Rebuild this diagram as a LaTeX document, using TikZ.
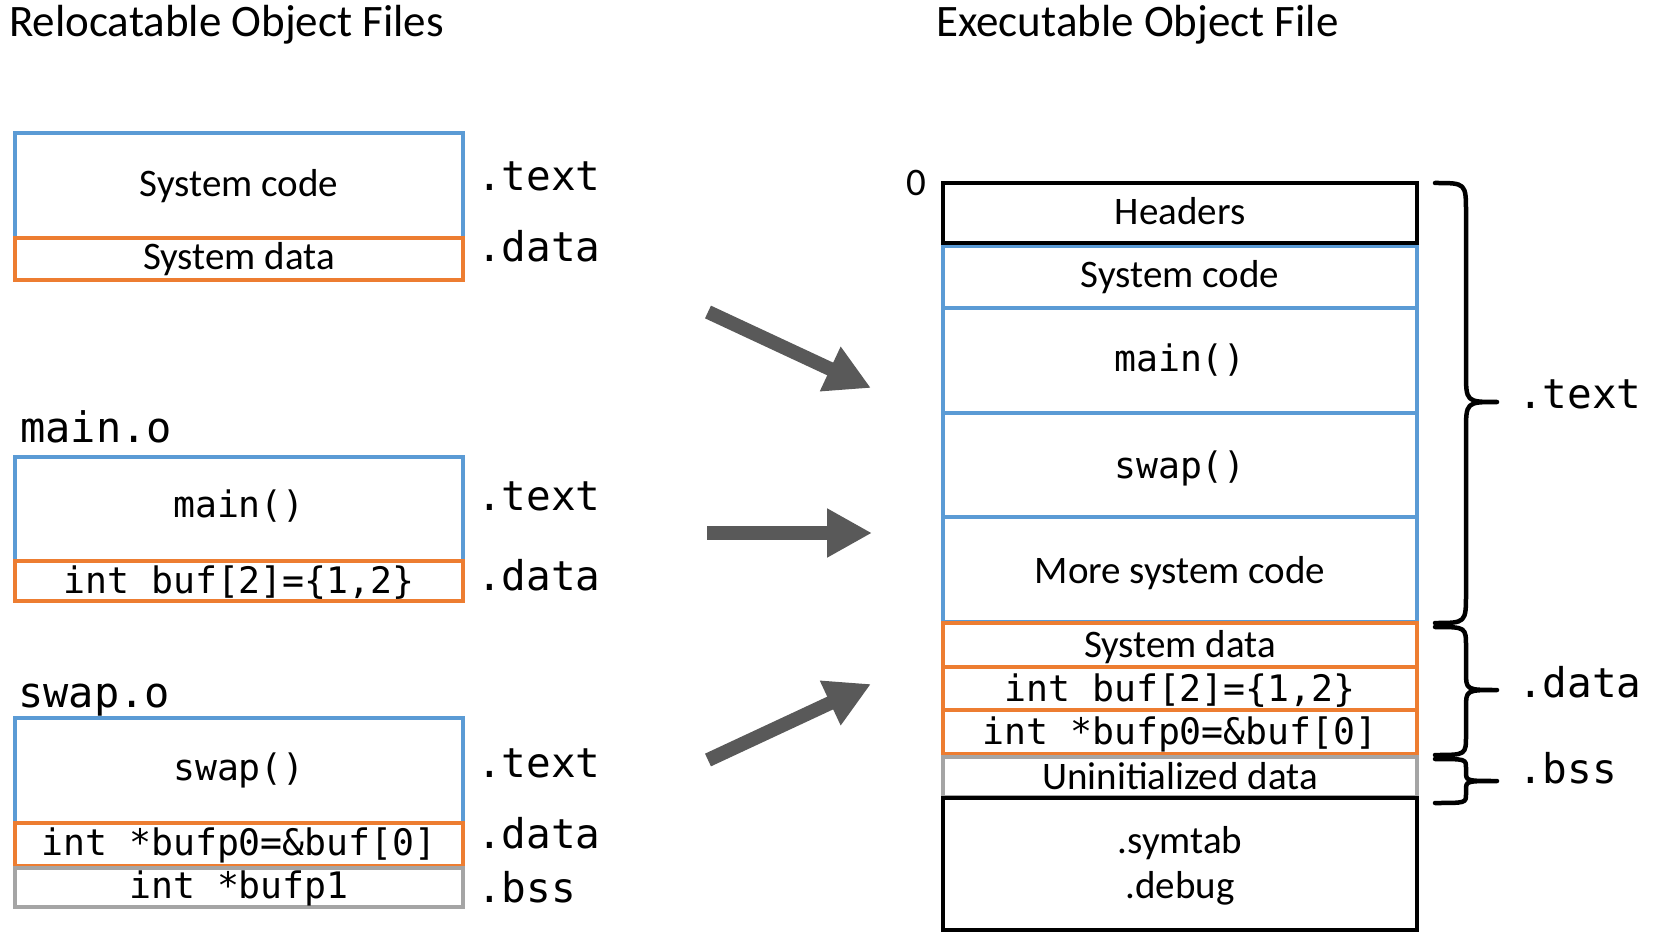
\documentclass[tikz,border=0pt]{standalone}
\usepackage{fontspec}
\setmainfont{Carlito}
\setmonofont{DejaVu Sans Mono}
\usetikzlibrary{arrows.meta}
\definecolor{cblue}{HTML}{5B9BD5}
\definecolor{corange}{HTML}{ED7D31}
\definecolor{cgray}{HTML}{A5A5A5}
\definecolor{carrow}{HTML}{595959}
\begin{document}
\begin{tikzpicture}[x=1pt,y=-1pt,
  bb/.style={draw=cblue,line width=3.5pt},
  ob/.style={draw=corange,line width=3.5pt},
  gb/.style={draw=cgray,line width=3.5pt},
  kb/.style={draw=black,line width=4pt},
  sans/.style={font=\fontsize{39}{46}\selectfont, anchor=base, inner sep=0pt},
  ttl/.style={font=\fontsize{45}{53}\selectfont, anchor=base west, inner sep=0pt},
  mono/.style={font=\ttfamily\fontsize{36.5}{44}\selectfont, anchor=base, inner sep=0pt},
  lab/.style={font=\ttfamily\fontsize{41}{48}\selectfont, anchor=base west, inner sep=0pt},
  flab/.style={font=\ttfamily\fontsize{42}{50}\selectfont, anchor=base west, inner sep=0pt},
  bigarrow/.style={draw=carrow, line width=14pt, -{Triangle[length=45pt,width=46pt]}},
  bracepath/.style={draw=black, line width=4.5pt, line cap=round, line join=round},
]
\useasboundingbox (0,0) rectangle (1657,949);
\fill[white] (0,0) rectangle (1657,949);

% titles
\node[ttl] (t1) at (9,37) {Relocatable Object Files};
\node[ttl] (t2) at (936,37) {Executable Object File};

% left box 1
\draw[bb] (15,133) rectangle (463,238);
\draw[ob] (15,238) rectangle (463,280);
\node[sans] (l1a) at (239,197) {System code};
\node[sans] (l1b) at (239,270) {System data};
\node[lab] (l1t) at (477,191) {.text};
\node[lab] (l1d) at (477,262) {.data};

% left box 2
\node[flab] (mo) at (20,442) {main.o};
\draw[bb] (15,457) rectangle (463,561);
\draw[ob] (15,561) rectangle (463,601);
\node[mono] (l2a) at (239,517) {main()};
\node[mono] (l2b) at (239,593) {int buf[2]=\{1,2\}};
\node[lab] (l2t) at (477,510) {.text};
\node[lab] (l2d) at (477,590) {.data};

% left box 3
\node[flab] (so) at (18,707) {swap.o};
\draw[bb] (15,718) rectangle (463,823);
\draw[ob] (15,823) rectangle (463,866);
\draw[gb] (15,868) rectangle (463,907);
\node[mono] (l3a) at (239,780) {swap()};
\node[mono] (l3b) at (239,855) {int *bufp0=\&buf[0]};
\node[mono] (l3c) at (239,898) {int *bufp1};
\node[lab] (l3t) at (477,777) {.text};
\node[lab] (l3d) at (477,848) {.data};
\node[lab] (l3s) at (477,902) {.bss};

% arrows
\coordinate (a1s) at (708,312);
\coordinate (a1e) at (871,388);
\coordinate (a2s) at (707,533);
\coordinate (a2e) at (872,533);
\coordinate (a3s) at (708,760);
\coordinate (a3e) at (871,684);
\draw[bigarrow] (a1s) -- (a1e);
\draw[bigarrow] (a2s) -- (a2e);
\draw[bigarrow] (a3s) -- (a3e);

% right stack
\draw[bb] (943,246) rectangle (1417,308);
\draw[bb] (943,308) rectangle (1417,413);
\draw[bb] (943,413) rectangle (1417,517);
\draw[bb] (943,517) rectangle (1417,622);
\draw[ob] (943,623) rectangle (1417,667);
\draw[ob] (943,667) rectangle (1417,710);
\draw[ob] (943,710) rectangle (1417,754);
\draw[gb] (943,757) rectangle (1417,797);
\draw[kb] (943,183) rectangle (1417,243);
\draw[kb] (943,798) rectangle (1417,930);

\node[sans] (zero) at (916,196) {0};
\node[sans] (r1) at (1180,225) {Headers};
\node[sans] (r2) at (1180,288) {System code};
\node[mono] (r3) at (1180,372) {main()};
\node[mono] (r4) at (1180,478) {swap()};
\node[sans] (r5) at (1180,583) {More system code};
\node[sans] (r6) at (1180,657) {System data};
\node[mono] (r7) at (1180,701) {int buf[2]=\{1,2\}};
\node[mono] (r8) at (1180,744) {int *bufp0=\&buf[0]};
\node[sans] (r9) at (1180,789) {Uninitialized data};
\node[sans] (r10) at (1180,853) {.symtab};
\node[sans] (r11) at (1180,898) {.debug};

% braces
\draw[bracepath] (1435,183) .. controls (1466,183) .. (1466,213) -- (1466,372)
  .. controls (1466,402) .. (1497,402) .. controls (1466,402) .. (1466,432)
  -- (1466,593) .. controls (1466,623) .. (1435,623);
\draw[bracepath] (1435,627) .. controls (1466,627) .. (1466,647) -- (1466,672)
  .. controls (1466,690) .. (1497,690) .. controls (1466,690) .. (1466,708)
  -- (1466,735) .. controls (1466,755) .. (1435,755);
\draw[bracepath] (1435,759) .. controls (1466,759) .. (1466,768) -- (1466,772)
  .. controls (1466,781) .. (1497,781) .. controls (1466,781) .. (1466,790)
  -- (1466,794) .. controls (1466,803) .. (1435,803);

\node[lab] (rt) at (1518,408) {.text};
\node[lab] (rd) at (1518,697) {.data};
\node[lab] (rs) at (1518,783) {.bss};
\end{tikzpicture}
\end{document}
